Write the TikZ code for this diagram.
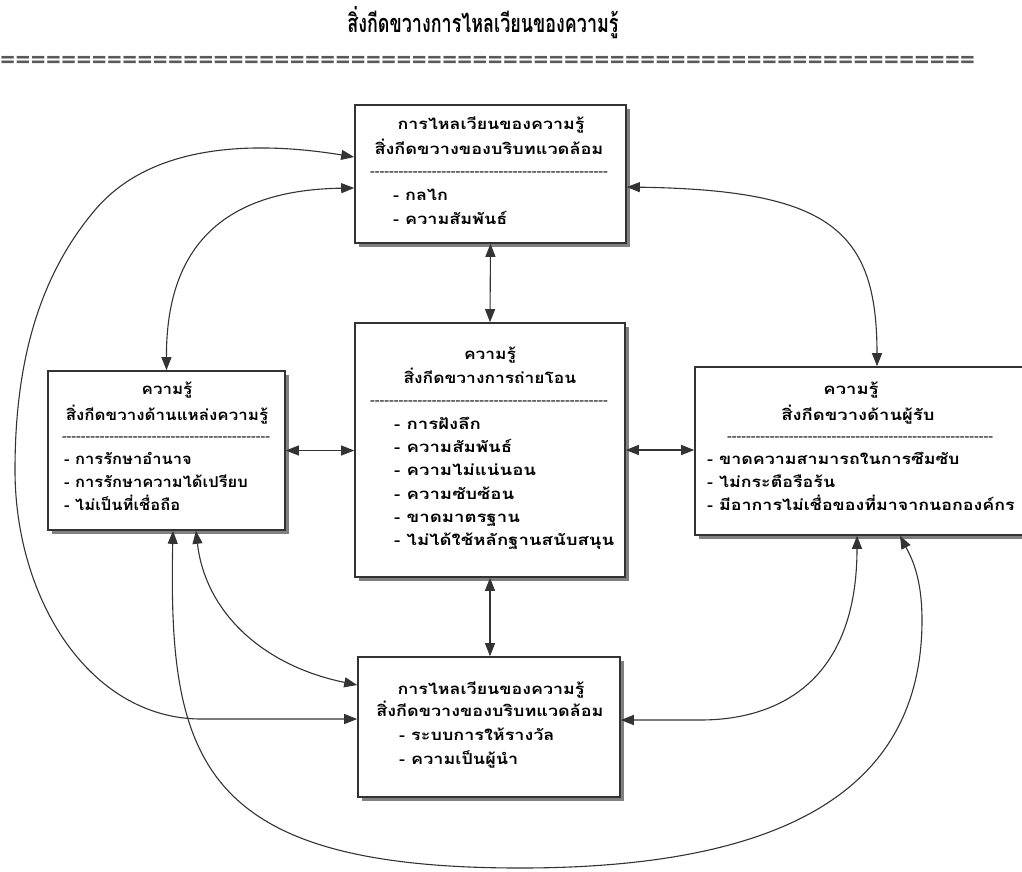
\documentclass[tikz,border=0pt]{standalone}
\usepackage{fontspec}
\setmainfont{Loma}[Script=Thai]
\usetikzlibrary{arrows.meta,shadows}
\newcommand\hyrow[1]{\foreach\i in {1,...,#1}{-\kern0pt}}
\newcommand\sx[2]{\scalebox{#1}[1]{#2}}
\begin{document}
\begin{tikzpicture}[x=1pt,y=-1pt,
  box/.style={draw=black!80,line width=1.6pt,fill=white,inner sep=0pt,
    drop shadow={shadow xshift=4pt,shadow yshift=-4pt,fill=black!50,opacity=1}},
  ttl/.style={font=\fontsize{23}{26}\selectfont\bfseries,anchor=mid,inner sep=0pt},
  hd/.style={font=\fontsize{15}{17}\selectfont\bfseries,anchor=mid,inner sep=0pt},
  it/.style={font=\fontsize{15}{17}\selectfont\bfseries,anchor=mid west,inner sep=0pt},
  sep/.style={anchor=mid,inner sep=0pt,font=\fontsize{12}{14}\selectfont\bfseries,text=black!85},
  conn/.style={draw=black!80,line width=1.1pt,<->,>={Triangle[length=13pt,width=10pt]}}]
\useasboundingbox (0,0) rectangle (1022,871);

% title
\node[ttl] (title) at (483,30) {\scalebox{0.78}[1.1]{สิ่งกีดขวางการไหลเวียนของความรู้}};
\node[anchor=mid west,inner sep=0pt,font=\fontsize{20}{22}\selectfont\bfseries,text=black!65] (eq) at (0,66)
 {\resizebox{975pt}{1.2\height}{================================================================}};

% boxes
\node[box,minimum width=271pt,minimum height=138pt] (T) at (490.5,174) {};
\node[box,minimum width=270pt,minimum height=254pt] (C) at (490,450) {};
\node[box,minimum width=237pt,minimum height=159pt] (L) at (166.5,450.5) {};
\node[box,minimum width=335pt,minimum height=168pt] (R) at (862.5,451) {};
\node[box,minimum width=262pt,minimum height=140pt] (B) at (489,727) {};

% top box text
\node[hd] (T1) at (491,127) {\sx{1.19}{การไหลเวียนของความรู้}};
\node[hd] (T2) at (489,152) {\sx{1.21}{สิ่งกีดขวางของบริบทแวดล้อม}};
\node[sep] (Td) at (489,173) {\resizebox{238pt}{\height}{\hyrow{50}}};
\node[it] (T3) at (393,198) {\sx{1.2}{- กลไก}};
\node[it] (T4) at (393,222) {\sx{1.2}{- ความสัมพันธ์}};

% centre box text
\node[hd] (C1) at (490,357) {\sx{1.16}{ความรู้}};
\node[hd] (C2) at (490,381) {\sx{1.16}{สิ่งกีดขวางการถ่ายโอน}};
\node[sep] (Cd) at (489,402) {\resizebox{238pt}{\height}{\hyrow{50}}};
\node[it] (C3) at (394,427) {\sx{1.24}{- การฝังลึก}};
\node[it] (C4) at (394,450) {\sx{1.24}{- ความสัมพันธ์}};
\node[it] (C5) at (394,473) {\sx{1.24}{- ความไม่แน่นอน}};
\node[it] (C6) at (394,497) {\sx{1.24}{- ความซับซ้อน}};
\node[it] (C7) at (394,520) {\sx{1.24}{- ขาดมาตรฐาน}};
\node[it] (C8) at (394,543) {\sx{1.24}{- ไม่ได้ใช้หลักฐานสนับสนุน}};

% left box text
\node[hd] (L1) at (167,392) {\sx{1.13}{ความรู้}};
\node[hd] (L2) at (167,418) {\sx{1.13}{สิ่งกีดขวางด้านแหล่งความรู้}};
\node[sep] (Ld) at (166,438) {\resizebox{208pt}{\height}{\hyrow{44}}};
\node[it] (L3) at (64,462) {\sx{1.1}{- การรักษาอำนาจ}};
\node[it] (L4) at (64,485) {\sx{1.1}{- การรักษาความได้เปรียบ}};
\node[it] (L5) at (64,508) {\sx{1.1}{- ไม่เป็นที่เชื่อถือ}};

% right box text
\node[hd] (R1) at (851,392) {\sx{1.23}{ความรู้}};
\node[hd] (R2) at (858,418) {\sx{1.23}{สิ่งกีดขวางด้านผู้รับ}};
\node[sep] (Rd) at (860,438) {\resizebox{266pt}{\height}{\hyrow{56}}};
\node[it] (R3) at (707,462) {\sx{1.19}{- ขาดความสามารถในการซึมซับ}};
\node[it] (R4) at (707,485) {\sx{1.19}{- ไม่กระตือรือร้น}};
\node[it] (R5) at (707,508) {\sx{1.19}{- มีอาการไม่เชื่อของที่มาจากนอกองค์กร}};

% bottom box text
\node[hd] (B1) at (491,692) {\sx{1.19}{การไหลเวียนของความรู้}};
\node[hd] (B2) at (490,714) {\sx{1.2}{สิ่งกีดขวางของบริบทแวดล้อม}};
\node[it] (B3) at (399,738) {\sx{1.2}{- ระบบการให้รางวัล}};
\node[it] (B4) at (399,762) {\sx{1.2}{- ความเป็นผู้นำ}};

% connectors
\draw[conn] (T.south) -- (C.north);
\draw[conn] (C.south) -- (C.south |- B.north);
\draw[conn] (L.east) -- (L.east -| C.west);
\draw[conn] (C.east) -- (C.east -| R.west);
\draw[conn] (T.west |- 0,188) .. controls (210,190) and (166,260) .. (L.north);
\draw[conn] (T.west |- 0,157) .. controls (250,140) and (150,145) .. (95,210)
  .. controls (40,275) and (15,360) .. (15,470)
  .. controls (15,600) and (90,718) .. (200,719) -- (B.west |- 0,719);
\draw[conn] (L.south -| 173,0) .. controls (168,760) and (200,868) .. (520,868)
  .. controls (800,868) and (922,780) .. (922,620)
  .. controls (922,575) and (910,555) .. (R.south -| 900,0);
\draw[conn] (L.south -| 196,0) .. controls (205,610) and (260,665) .. (B.west |- 0,685);
\draw[conn] (R.south -| 857,0) .. controls (857,680) and (780,720) .. (700,720) -- (B.east |- 0,720);
\draw[conn] (T.east |- 0,187) .. controls (830,190) and (877,230) .. (R.north -| 877,0);
\end{tikzpicture}
\end{document}
